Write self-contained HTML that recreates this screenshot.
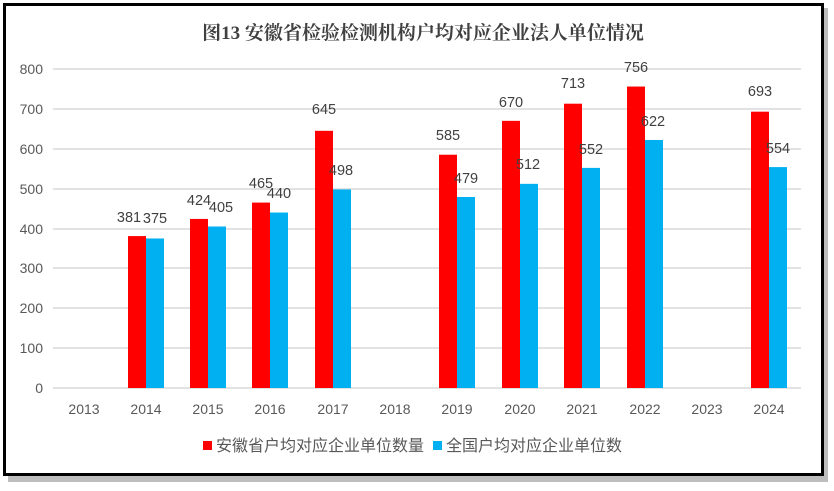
<!DOCTYPE html>
<html><head><meta charset="utf-8"><style>
body{margin:0;background:#fff;width:834px;height:486px;overflow:hidden}
</style></head><body>
<svg width="834" height="486" xmlns="http://www.w3.org/2000/svg" font-family="'Liberation Sans','Noto Sans CJK SC',sans-serif">
<rect x="8" y="8" width="820" height="474" fill="#bdbdbd"/>
<rect x="4.5" y="4.5" width="818" height="470" fill="#fff" stroke="#000" stroke-width="3"/>
<text x="423" y="39" text-anchor="middle" font-family="'Liberation Serif','Noto Serif CJK SC',serif" font-weight="bold" font-size="19" fill="#404040">图13  安徽省检验检测机构户均对应企业法人单位情况</text>
<g stroke="#d9d9d9" stroke-width="1.5">
<line x1="53" x2="801" y1="69" y2="69"/><line x1="53" x2="801" y1="109" y2="109"/><line x1="53" x2="801" y1="149" y2="149"/><line x1="53" x2="801" y1="189" y2="189"/><line x1="53" x2="801" y1="229" y2="229"/><line x1="53" x2="801" y1="268" y2="268"/><line x1="53" x2="801" y1="308" y2="308"/><line x1="53" x2="801" y1="348" y2="348"/><line x1="53" x2="801" y1="388" y2="388"/>
</g>
<g font-size="14" fill="#595959" text-anchor="end">
<text x="43" y="74">800</text><text x="43" y="114">700</text><text x="43" y="154">600</text><text x="43" y="194">500</text><text x="43" y="234">400</text><text x="43" y="273">300</text><text x="43" y="313">200</text><text x="43" y="353">100</text><text x="43" y="393">0</text>
</g>
<g font-size="14" fill="#595959" text-anchor="middle">
<text x="84" y="414">2013</text><text x="146" y="414">2014</text><text x="208" y="414">2015</text><text x="270" y="414">2016</text><text x="333" y="414">2017</text><text x="395" y="414">2018</text><text x="457" y="414">2019</text><text x="520" y="414">2020</text><text x="582" y="414">2021</text><text x="645" y="414">2022</text><text x="707" y="414">2023</text><text x="769" y="414">2024</text>
</g>
<g id="bars"></g>
<g font-size="14.5" fill="#404040" text-anchor="middle">
<text x="129" y="222">381</text><text x="155" y="223">375</text>
<text x="199" y="205">424</text><text x="221" y="212">405</text>
<text x="261" y="188">465</text><text x="279" y="198">440</text>
<text x="324" y="114">645</text><text x="341" y="175">498</text>
<text x="448" y="140">585</text><text x="466" y="183">479</text>
<text x="511" y="107">670</text><text x="528" y="169">512</text>
<text x="573" y="88">713</text><text x="591" y="154">552</text>
<text x="636" y="72">756</text><text x="653" y="126">622</text>
<text x="760" y="96">693</text><text x="778" y="153">554</text>
</g>
<rect x="203" y="441" width="9" height="9" fill="#ff0000"/>
<text x="216" y="451" font-size="16" fill="#595959">安徽省户均对应企业单位数量</text>
<rect x="433" y="441" width="9" height="9" fill="#00b0f0"/>
<text x="446" y="451" font-size="16" fill="#595959">全国户均对应企业单位数</text>
<script>
var d=[[146,381,375],[208,424,405],[270,465,440],[333,645,498],[457,585,479],[520,670,512],[582,713,552],[645,756,622],[769,693,554]];
var b=document.getElementById('bars'),ns='http://www.w3.org/2000/svg';
function r(x,v,c){var e=document.createElementNS(ns,'rect');var h=v*0.39875;e.setAttribute('x',x);e.setAttribute('y',388-h);e.setAttribute('width',18);e.setAttribute('height',h);e.setAttribute('fill',c);b.appendChild(e);}
d.forEach(function(a){r(a[0]-18,a[1],'#ff0000');r(a[0],a[2],'#00b0f0');});
</script>
</svg>
</body></html>
